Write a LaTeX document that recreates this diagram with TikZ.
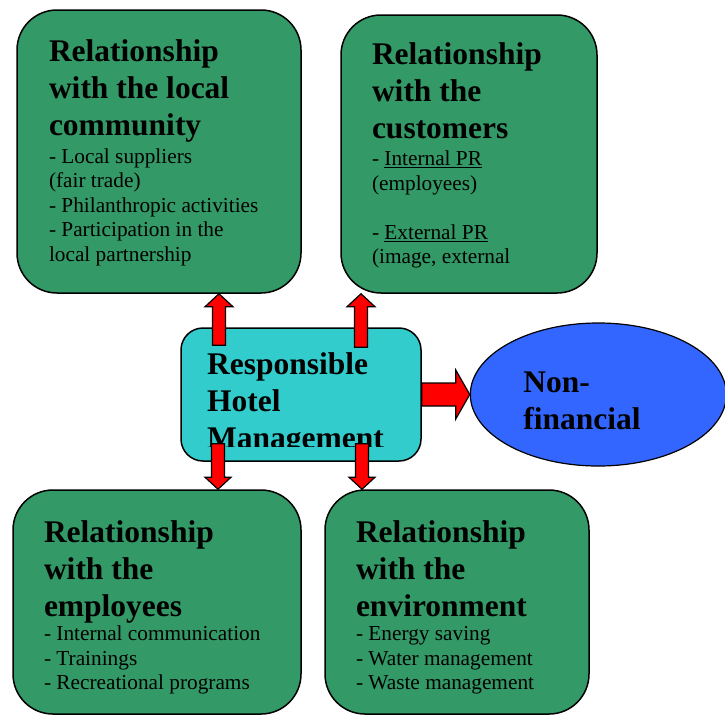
\documentclass[tikz,border=0pt]{standalone}
\usepackage{fontspec}
\setmainfont{Liberation Serif}
\usetikzlibrary{shapes.geometric,positioning,calc}
\definecolor{relgreen}{RGB}{51,153,102}
\definecolor{hrmcyan}{RGB}{51,204,204}
\definecolor{nfblue}{RGB}{51,102,255}
\setlength{\parindent}{0pt}
\newcommand\reltitle{\fontsize{31.5}{37}\selectfont\bfseries\spaceskip=0pt\xspaceskip=0pt\relax}
\newcommand\relitems{\fontsize{21.3}{24.5}\selectfont\spaceskip=0pt\xspaceskip=0pt\relax}
\tikzset{x=1pt, y=-1pt, % one unit is one pixel of the sketch
relbox/.style={rectangle, rounded corners=40pt, draw=black, line width=1.5pt, fill=relgreen, inner ysep=0pt, align=left}, % the four green boxes
redarrow/.style args={#1/#2/#3}{draw=black, fill=red, line width=1.2pt, % block arrow: half shaft / half head / head length
  to path={let \p1=(\tikztostart), \p2=(\tikztotarget), \p3=($(\p2)!#3!(\p1)$) in
    ($(\p1)!#1!90:(\p2)$) -- ($(\p3)!#1!-90:(\p1)$) -- ($(\p3)!#2!-90:(\p1)$) -- (\p2)
    -- ($(\p3)!#2!90:(\p1)$) -- ($(\p3)!#1!90:(\p1)$) -- ($(\p1)!#1!-90:(\p2)$) -- cycle}},
}

\begin{document}
\begin{tikzpicture}
\useasboundingbox (0,0) rectangle (725,716);
\node[relbox, text width=220pt, inner xsep=32pt, minimum height=283pt, text height=25pt] (community) at (159,151.5)
  {{\reltitle Relationship\\with the local\\community\par}\vspace{3pt}\relitems - Local suppliers\\(fair trade)\\- Philanthropic activities\\- Participation in the\\local partnership\par};
\node[relbox, text width=194pt, inner xsep=31pt, minimum height=278pt, text height=25pt] (customers) at (469,154)
  {{\reltitle Relationship\\with the\\customers\par}\vspace{3pt}\relitems - \underline{Internal PR}\\(employees)\par\vspace{24.5pt}- \underline{External PR}\\(image, external\par};
\node[relbox, text width=226pt, inner xsep=31pt, minimum height=224pt, text height=33pt] (employees) at (157,602)
  {{\reltitle Relationship\\with the\\employees\par}\relitems - Internal communication\\- Trainings\\- Recreational programs\par};
\node[relbox, text width=202pt, inner xsep=31pt, minimum height=224pt, text height=33pt] (environment) at (457,602)
  {{\reltitle Relationship\\with the\\environment\par}\relitems - Energy saving\\- Water management\\- Waste management\par};
\node[rectangle, rounded corners=22pt, draw=black, line width=1.5pt, fill=hrmcyan, minimum width=240pt, minimum height=133pt] (hrm) at (301,394.5) {};
\begin{scope}
\clip (hrm.north west) rectangle ([yshift=15pt]hrm.south east);
\node[anchor=north west, inner sep=0pt, align=left, font=\reltitle] (hrmtext) at (207,352) {Responsible\\Hotel\\Management};
\end{scope}
\node[ellipse, draw=black, line width=1.2pt, fill=nfblue, minimum width=256pt, minimum height=143pt, inner sep=0pt,
  text width=150pt, text height=34pt, align=left, font=\reltitle, right=48pt of hrm] (nonfin) {Non-\\financial};
% arrows from the management box
\coordinate (a1) at ([xshift=-82pt,yshift=-18pt]hrm.north);
\coordinate (a2) at ([xshift=60pt,yshift=-20pt]hrm.north);
\coordinate (a3) at ([xshift=-83pt,yshift=18pt]hrm.south);
\coordinate (a4) at ([xshift=61pt,yshift=18pt]hrm.south);
\draw[redarrow=6.5pt/14pt/13pt] (a1) to (a1 |- community.south);
\draw[redarrow=6.5pt/14pt/13pt] (a2) to (a2 |- customers.south);
\draw[redarrow=6.5pt/13pt/12pt] (a3) to (a3 |- employees.north);
\draw[redarrow=6.5pt/13pt/12pt] (a4) to (a4 |- environment.north);
\draw[redarrow=11.5pt/24.5pt/14pt] (hrm.east) to (nonfin.west);
\end{tikzpicture}
\end{document}
